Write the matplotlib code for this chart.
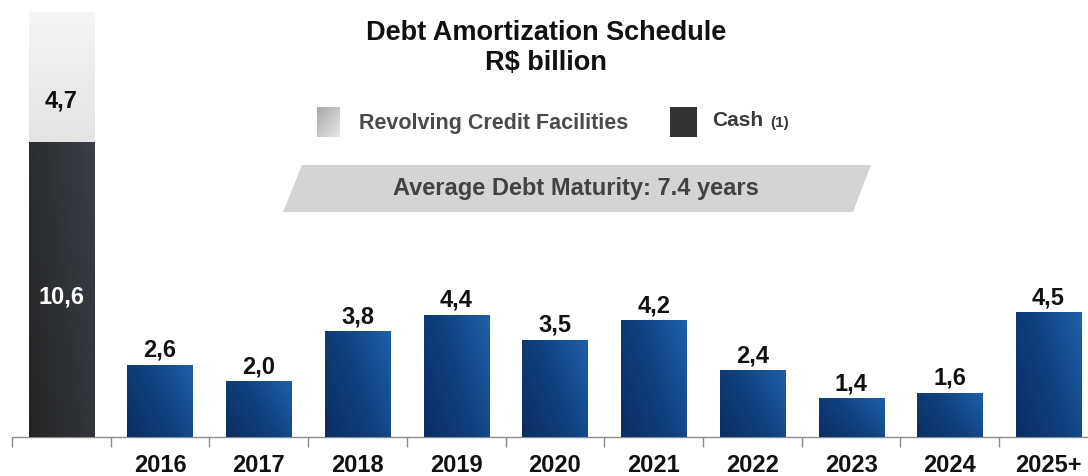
"""Debt amortization schedule bar chart (R$ billion)."""

import matplotlib

matplotlib.use("Agg")
import matplotlib.pyplot as plt
import numpy as np
from matplotlib.colors import LinearSegmentedColormap
from matplotlib.patches import Polygon, Rectangle

plt.rcParams["font.family"] = ["Liberation Sans", "DejaVu Sans"]

# data
years = ["2016", "2017", "2018", "2019", "2020", "2021", "2022", "2023", "2024", "2025+"]
amortization = [2.6, 2.0, 3.8, 4.4, 3.5, 4.2, 2.4, 1.4, 1.6, 4.5]
cash = 10.6
revolving = 4.7
avg_maturity = 7.4

BLUE_CMAP = LinearSegmentedColormap.from_list("blue", ["#0a2d63", "#10417f", "#1d5fa8"])
DARK_CMAP = LinearSegmentedColormap.from_list("dark", ["#242424", "#2f3135", "#3b4047"])
LIGHT_CMAP = LinearSegmentedColormap.from_list("light", ["#e4e4e4", "#ececec", "#f6f6f6"])


def fill_gradient(ax, patch, cmap, diagonal=True):
    """Paint a gradient inside a bar patch."""
    x0, y0 = patch.get_x(), patch.get_y()
    w, h = patch.get_width(), patch.get_height()
    gx, gy = np.meshgrid(np.linspace(0, 1, 64), np.linspace(1, 0, 64))
    g = 0.65 * gx + 0.35 * gy if diagonal else gy
    im = ax.imshow(g, cmap=cmap, extent=(x0, x0 + w, y0, y0 + h), aspect="auto",
                   origin="upper", zorder=patch.get_zorder(), interpolation="bilinear")
    im.set_clip_path(patch)
    patch.set_facecolor("none")


def fmt(v):
    return f"{v:.1f}".replace(".", ",")


W, H = 1088, 476
fig = plt.figure(figsize=(W / 100, H / 100), dpi=100)

# main bar axes: baseline at y=437px, 27.8 px per unit, 98.7 px per category
ax = fig.add_axes([12 / W, 39 / H, 1076 / W, 437 / H])
ax.set_xlim(-0.5, 10.4)
ax.set_ylim(0, 437 / 27.8)
ax.patch.set_alpha(0)
for s in ["top", "right", "left"]:
    ax.spines[s].set_visible(False)
ax.spines["bottom"].set_color("#8c8c8c")
ax.spines["bottom"].set_linewidth(1.0)
ax.set_yticks([])
ax.set_xticks(np.arange(-0.5, 10, 1.0))
ax.set_xticklabels([])
ax.tick_params(axis="x", direction="out", length=7, color="#8c8c8c", width=1.0)

bw = 0.66
# cash + revolving stack
cash_bar = ax.bar(0, cash, width=bw, color="#2e2e2e", zorder=3)[0]
fill_gradient(ax, cash_bar, DARK_CMAP)
rev_bar = ax.bar(0, revolving, bottom=cash, width=bw, color="#e9e9e9", zorder=2)[0]
fill_gradient(ax, rev_bar, LIGHT_CMAP, diagonal=False)
ax.text(0, cash / 2 - 0.25, fmt(cash), ha="center", va="center",
        fontsize=17, weight="bold", color="white", zorder=5)
ax.text(0, cash + 1.5, fmt(revolving), ha="center", va="center",
        fontsize=17, weight="bold", color="#111111", zorder=5)

xs = np.arange(1, len(years) + 1)
bars = ax.bar(xs, amortization, width=bw, color="#10417f", zorder=3)
for b, v in zip(bars, amortization):
    fill_gradient(ax, b, BLUE_CMAP)
    ax.text(b.get_x() + bw / 2, v + 0.1, fmt(v), ha="center",
            va="bottom", fontsize=17, weight="bold", color="#111111", zorder=5)
for x, yr in zip(xs, years):
    ax.text(x, -1.02, yr, ha="center", va="center", fontsize=17, weight="bold",
            color="#111111", clip_on=False)

# overlay in pixel coordinates for title, legend and banner
ov = fig.add_axes([0, 0, 1, 1])
ov.set_xlim(0, W)
ov.set_ylim(H, 0)
ov.axis("off")
ov.patch.set_alpha(0)

ov.text(546, 33, "Debt Amortization Schedule", ha="center", va="center", fontsize=19.5,
        weight="bold", color="#111111")
ov.text(546, 63, "R$ billion", ha="center", va="center", fontsize=19.5, weight="bold",
        color="#111111")

# legend swatches
sw1 = Rectangle((317, 107), 23, 30, zorder=2)
ov.add_patch(sw1)
gx, gy = np.meshgrid(np.linspace(0, 1, 32), np.linspace(0, 1, 32))
im = ov.imshow(0.5 * gx + 0.5 * gy, cmap=LinearSegmentedColormap.from_list("sw", ["#a9a9a9", "#e6e6e6"]),
               extent=(317, 340, 137, 107), aspect="auto", zorder=2)
im.set_clip_path(sw1)
ov.add_patch(Rectangle((670, 107), 27, 30, facecolor="#333333", zorder=2))
ov.text(359, 123, "Revolving Credit Facilities", ha="left", va="center", fontsize=15.5,
        weight="bold", color="#4a4a4a")
ov.text(712, 120, "Cash", ha="left", va="center", fontsize=15, weight="bold", color="#3a3a3a")
ov.text(770, 123, "(1)", ha="left", va="center", fontsize=11, weight="bold", color="#3a3a3a")

# average maturity banner
ov.add_patch(Polygon([(302, 165), (871, 165), (853, 212), (283, 212)], closed=True,
                     facecolor="#d4d4d4", edgecolor="none", zorder=1))
ov.text(576, 188, f"Average Debt Maturity: {avg_maturity} years", ha="center", va="center",
        fontsize=17, weight="bold", color="#424242", zorder=2)

ov.set_xlim(0, W)
ov.set_ylim(H, 0)

fig.savefig("out.png", dpi=100)
plt.close()
